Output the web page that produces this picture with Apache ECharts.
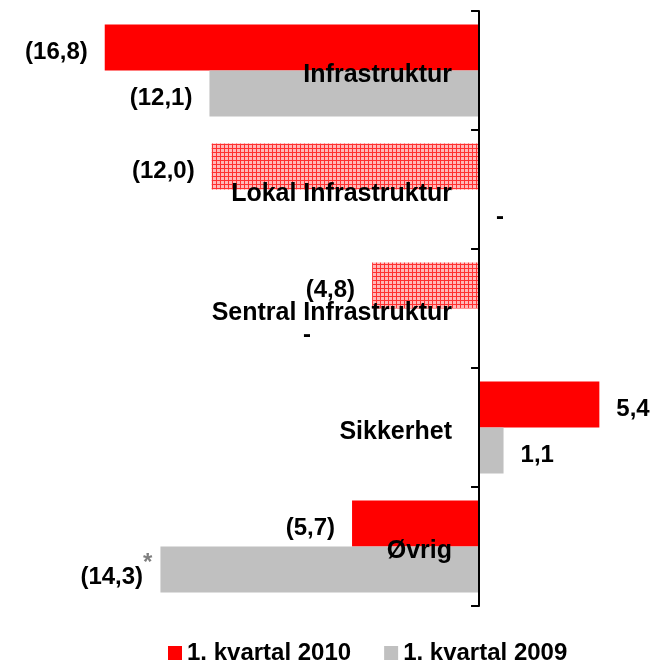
<!DOCTYPE html>
<html>
<head>
<meta charset="utf-8">
<script src="https://cdn.jsdelivr.net/npm/echarts@6/dist/echarts.min.js"></script>
<style>
html,body{margin:0;padding:0;background:#fff;}
#c{width:655px;height:663px;}
</style>
</head>
<body>
<div id="c"></div>
<script>
const categories = ['Infrastruktur', 'Lokal Infrastruktur', 'Sentral Infrastruktur', 'Sikkerhet', 'Øvrig'];
const q2010 = [-16.8, -12.0, -4.8, 5.4, -5.7];
const q2009 = [-12.1, 0, 0, 1.1, -14.3];
const seriesNames = ['1. kvartal 2010', '1. kvartal 2009'];
const patterned2010 = [false, true, true, false, false];
const starred2009 = [false, false, false, false, true];

const FONT = '"Liberation Sans", Arial, sans-serif';

function makePattern() {
  const c = document.createElement('canvas');
  c.width = 4; c.height = 4;
  const g = c.getContext('2d');
  g.fillStyle = '#ffb8b8';
  g.fillRect(0, 0, 4, 4);
  g.fillStyle = '#ff3030';
  g.fillRect(0, 0, 4, 1);
  g.fillRect(0, 0, 1, 4);
  return c;
}
const pattern = { image: makePattern(), repeat: 'repeat' };

function fmt(v) {
  if (v === 0) return '-';
  const s = Math.abs(v).toFixed(1).replace('.', ',');
  return v < 0 ? '(' + s + ')' : s;
}

function labelFor(v, extra) {
  const lab = {
    show: true,
    position: v < 0 ? 'left' : 'right',
    distance: 17,
    offset: [0, 5],
    formatter: fmt(v),
    fontFamily: FONT,
    fontSize: 24,
    fontWeight: 'bold',
    color: '#000'
  };
  return Object.assign(lab, extra || {});
}

const data2010 = q2010.map((v, i) => ({
  value: v,
  itemStyle: patterned2010[i] ? { color: pattern } : undefined,
  label: labelFor(v)
}));

const data2009 = q2009.map((v, i) => {
  let extra = {};
  if (starred2009[i]) {
    extra = {
      distance: 8,
      offset: [0, 8],
      formatter: '{v|' + fmt(v) + '}{s|*}',
      rich: {
        v: { fontFamily: FONT, fontSize: 24, fontWeight: 'bold', color: '#000', lineHeight: 53, verticalAlign: 'middle' },
        s: { fontFamily: FONT, fontSize: 24, fontWeight: 'bold', color: '#7f7f7f', lineHeight: 8, verticalAlign: 'top' }
      }
    };
  }
  if (v === 0 && i === 2) {
    extra = { offset: [-193, 4] };
  }
  return { value: v, label: labelFor(v, extra) };
});

const chart = echarts.init(document.getElementById('c'));
chart.setOption({
  animation: false,
  backgroundColor: '#fff',
  grid: { left: 78, right: 20, top: 11, bottom: 57, containLabel: false, outerBoundsMode: 'none' },
  xAxis: {
    type: 'value', min: -18, max: 7, show: false,
    splitLine: { show: false }
  },
  yAxis: {
    type: 'category',
    data: categories,
    inverse: true,
    z: 10,
    axisLine: { show: true, onZero: true, lineStyle: { color: '#000', width: 2 } },
    axisTick: { show: true, length: 8, lineStyle: { color: '#000', width: 2 } },
    axisLabel: {
      margin: -374,
      align: 'right',
      verticalAlign: 'top',
      lineHeight: 9,
      fontFamily: FONT, fontSize: 25, fontWeight: 'bold', color: '#000'
    }
  },
  legend: {
    data: seriesNames,
    left: 163,
    top: 636,
    icon: 'rect',
    itemWidth: 14,
    itemHeight: 14,
    itemGap: 33,
    textStyle: { fontFamily: FONT, fontSize: 24, fontWeight: 'bold', color: '#000' }
  },
  series: [
    { name: seriesNames[0], type: 'bar', data: data2010, barWidth: 46, barGap: '0%', itemStyle: { color: '#ff0000' } },
    { name: seriesNames[1], type: 'bar', data: data2009, barWidth: 46, barGap: '0%', itemStyle: { color: '#c0c0c0' } }
  ]
});
</script>
</body>
</html>
